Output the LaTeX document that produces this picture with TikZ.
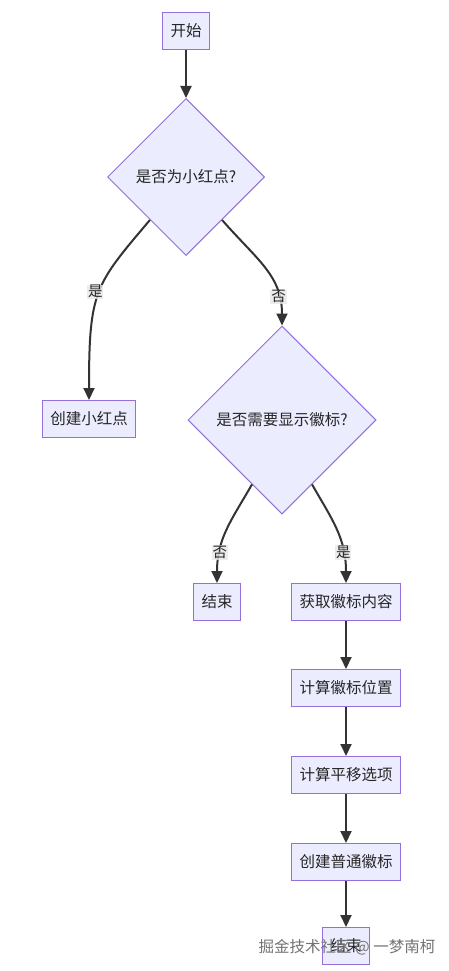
\documentclass[tikz,border=0pt]{standalone}
\usepackage{fontspec}
\setmainfont{Noto Sans CJK SC}
\usetikzlibrary{arrows.meta, shapes.geometric, positioning}

\definecolor{nodefill}{HTML}{ECECFF}
\definecolor{nodeline}{HTML}{9370DB}
\definecolor{edgeline}{HTML}{333333}
\definecolor{labelbg}{HTML}{E8E8E8}

\begin{document}
\begin{tikzpicture}[x=1pt, y=-1pt, >={Triangle[length=12pt,width=11pt]},
    box/.style={draw=nodeline, fill=nodefill, line width=1pt, minimum height=37pt,
        inner xsep=8pt, font=\fontsize{15.5}{17}\selectfont, text=black!85},
    choice/.style={diamond, aspect=1, draw=nodeline, fill=nodefill, line width=1pt,
        inner sep=0pt, font=\fontsize{15.5}{17}\selectfont, text=black!85},
    flow/.style={->, draw=edgeline, line width=2pt},
    tag/.style={fill=labelbg, fill opacity=0.8, text opacity=1, inner sep=0.8pt,
        font=\fontsize{14.5}{16}\selectfont, text=black!85}]

        \useasboundingbox[fill=white] (0,0) rectangle (449,971);

        % --- nodes ---
        \node[box] (start) at (186,31) {开始};
        \node[choice, minimum size=157pt] (dot) at (186,177) {是否为小红点?};
        \node[box] (mkdot) at (89,419) {创建小红点};
        \node[choice, minimum size=188pt] (show) at (282,420) {是否需要显示徽标?};
        \node[box] (stopa) at (217,602) {结束};
        \node[box] (fetch) at (346,602) {获取徽标内容};
        \node[box] (place) at (346,688) {计算徽标位置};
        \node[box] (shift) at (346,775) {计算平移选项};
        \node[box] (mkbadge) at (346,862) {创建普通徽标};
        \node[box] (stopb) at (346,946) {结束};

        % --- edges ---
        \draw[flow] (start) -- (dot);
        \draw[flow] (dot.230) .. controls +(-55,65) and +(0,-110) .. (mkdot.north)
            node[tag, pos=0.49, xshift=-4pt] {是};
        \draw[flow] (dot.310) .. controls +(35,40) and +(0,-50) .. (show.north)
            node[tag, pos=0.78] {否};
        \draw[flow] (show.245) .. controls +(-20,35) and +(0,-45) .. (stopa.north)
            node[tag, pos=0.74] {否};
        \draw[flow] (show.295) .. controls +(20,35) and +(0,-45) .. (fetch.north)
            node[tag, pos=0.74] {是};
        \draw[flow] (fetch) -- (place);
        \draw[flow] (place) -- (shift);
        \draw[flow] (shift) -- (mkbadge);
        \draw[flow] (mkbadge) -- (stopb);

        % watermark
        \node[text=black!55, font=\fontsize{15.5}{17}\selectfont] (mark) at (347,947) {掘金技术社区 @ 一梦南柯};

\end{tikzpicture}
\end{document}
